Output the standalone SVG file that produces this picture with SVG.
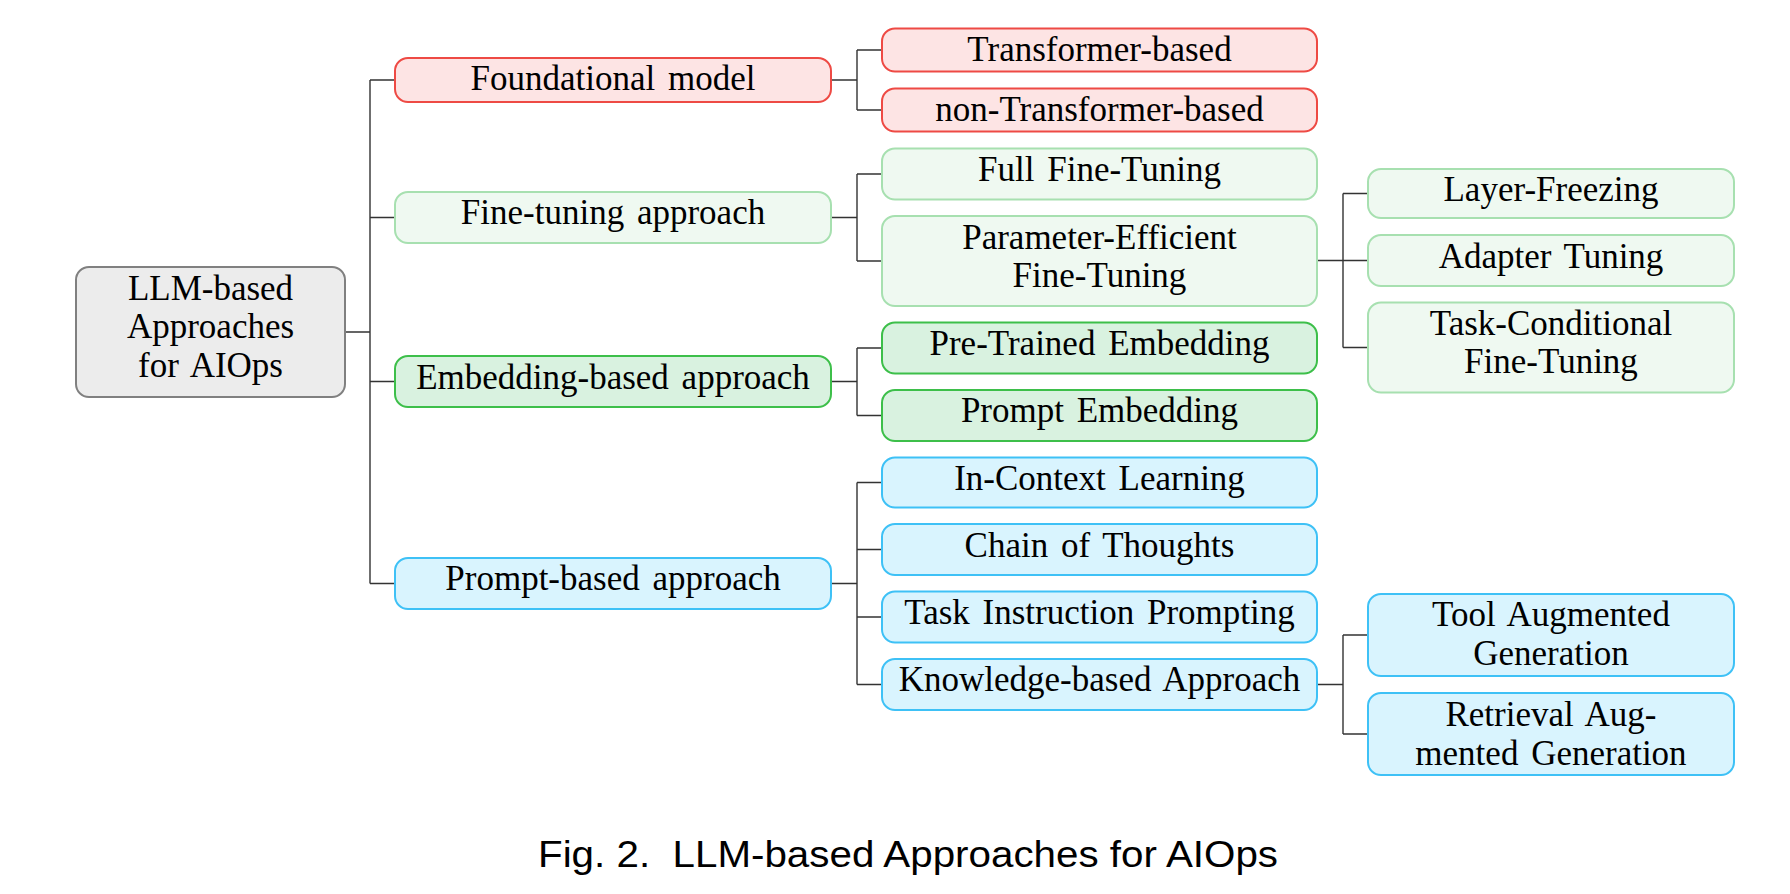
<svg xmlns="http://www.w3.org/2000/svg" width="1790" height="894" viewBox="0 0 1790 894">
<style>
.box{stroke-width:2}
.root{fill:#ececec;stroke:#808080}
.red{fill:#fde4e4;stroke:#ee4a44}
.lg{fill:#eff9f1;stroke:#a7e0b0}
.dg{fill:#d9f2e0;stroke:#3dbf4a}
.bl{fill:#d9f4fe;stroke:#3ec1f6}
text{font-family:"Liberation Serif","Times New Roman",serif;font-size:35px;fill:#000;text-anchor:middle;word-spacing:4px}
.cap{font-family:"Liberation Sans",Arial,sans-serif;font-size:37px;text-anchor:start;word-spacing:0}
#connectors path{fill:none;stroke:#333;stroke-width:1.4}
</style>
<rect width="1790" height="894" fill="#fff"/>
<g id="connectors">
<path d="M345,332H370M370,80V583.5M370,80H395M370,217.5H395M370,381.5H395M370,583.5H395"/>
<path d="M831,80H857M857,50V110M857,50H882M857,110H882"/>
<path d="M831,217.5H857M857,174V261M857,174H882M857,261H882"/>
<path d="M1317,260.5H1343M1343,193.5V347.5M1343,193.5H1368M1343,260.5H1368M1343,347.5H1368"/>
<path d="M831,381.5H857M857,348V415.5M857,348H882M857,415.5H882"/>
<path d="M831,583.5H857M857,482.5V684.5M857,482.5H882M857,549.5H882M857,617H882M857,684.5H882"/>
<path d="M1317,684.5H1343M1343,635V734M1343,635H1368M1343,734H1368"/>
</g>
<g id="root"><rect class="box root" x="76" y="267" width="269" height="130" rx="13"/>
<text x="210.5" y="300">LLM-based</text><text x="210.5" y="338">Approaches</text><text x="210.5" y="377">for AIOps</text></g>
<g id="foundational"><rect class="box red" x="395" y="58" width="436" height="44" rx="13"/><text x="613" y="90">Foundational model</text></g>
<g id="finetuning"><rect class="box lg" x="395" y="192" width="436" height="51" rx="13"/><text x="613" y="224">Fine-tuning approach</text></g>
<g id="embedding"><rect class="box dg" x="395" y="356" width="436" height="51" rx="13"/><text x="613" y="388.5">Embedding-based approach</text></g>
<g id="prompt"><rect class="box bl" x="395" y="558" width="436" height="51" rx="13"/><text x="613" y="590">Prompt-based approach</text></g>
<g id="transformer"><rect class="box red" x="882" y="28.5" width="435" height="43" rx="13"/><text x="1099.5" y="61">Transformer-based</text></g>
<g id="nontransformer"><rect class="box red" x="882" y="88.5" width="435" height="43" rx="13"/><text x="1099.5" y="120.5">non-Transformer-based</text></g>
<g id="fullft"><rect class="box lg" x="882" y="148.5" width="435" height="51" rx="13"/><text x="1099.5" y="181">Full Fine-Tuning</text></g>
<g id="peft"><rect class="box lg" x="882" y="216" width="435" height="90" rx="13"/><text x="1099.5" y="248.5">Parameter-Efficient</text><text x="1099.5" y="287">Fine-Tuning</text></g>
<g id="pretrained"><rect class="box dg" x="882" y="322.5" width="435" height="51" rx="13"/><text x="1099.5" y="354.5">Pre-Trained Embedding</text></g>
<g id="promptemb"><rect class="box dg" x="882" y="390" width="435" height="51" rx="13"/><text x="1099.5" y="422">Prompt Embedding</text></g>
<g id="icl"><rect class="box bl" x="882" y="457.5" width="435" height="50" rx="13"/><text x="1099.5" y="490">In-Context Learning</text></g>
<g id="cot"><rect class="box bl" x="882" y="524" width="435" height="51" rx="13"/><text x="1099.5" y="556.5">Chain of Thoughts</text></g>
<g id="tip"><rect class="box bl" x="882" y="591.5" width="435" height="51" rx="13"/><text x="1099.5" y="624">Task Instruction Prompting</text></g>
<g id="kba"><rect class="box bl" x="882" y="659" width="435" height="51" rx="13"/><text x="1099.5" y="691">Knowledge-based Approach</text></g>
<g id="layerfreezing"><rect class="box lg" x="1368" y="169" width="366" height="49" rx="13"/><text x="1551" y="200.5">Layer-Freezing</text></g>
<g id="adapter"><rect class="box lg" x="1368" y="235" width="366" height="51" rx="13"/><text x="1551" y="267.5">Adapter Tuning</text></g>
<g id="taskcond"><rect class="box lg" x="1368" y="302.5" width="366" height="90" rx="13"/><text x="1551" y="335">Task-Conditional</text><text x="1551" y="373">Fine-Tuning</text></g>
<g id="tool"><rect class="box bl" x="1368" y="594" width="366" height="82" rx="13"/><text x="1551" y="626">Tool Augmented</text><text x="1551" y="665">Generation</text></g>
<g id="rag"><rect class="box bl" x="1368" y="693" width="366" height="82" rx="13"/><text x="1551" y="725.5">Retrieval Aug-</text><text x="1551" y="764.5">mented Generation</text></g>
<text class="cap" x="538" y="867" xml:space="preserve" textLength="740" lengthAdjust="spacingAndGlyphs">Fig. 2.  LLM-based Approaches for AIOps</text>
</svg>
